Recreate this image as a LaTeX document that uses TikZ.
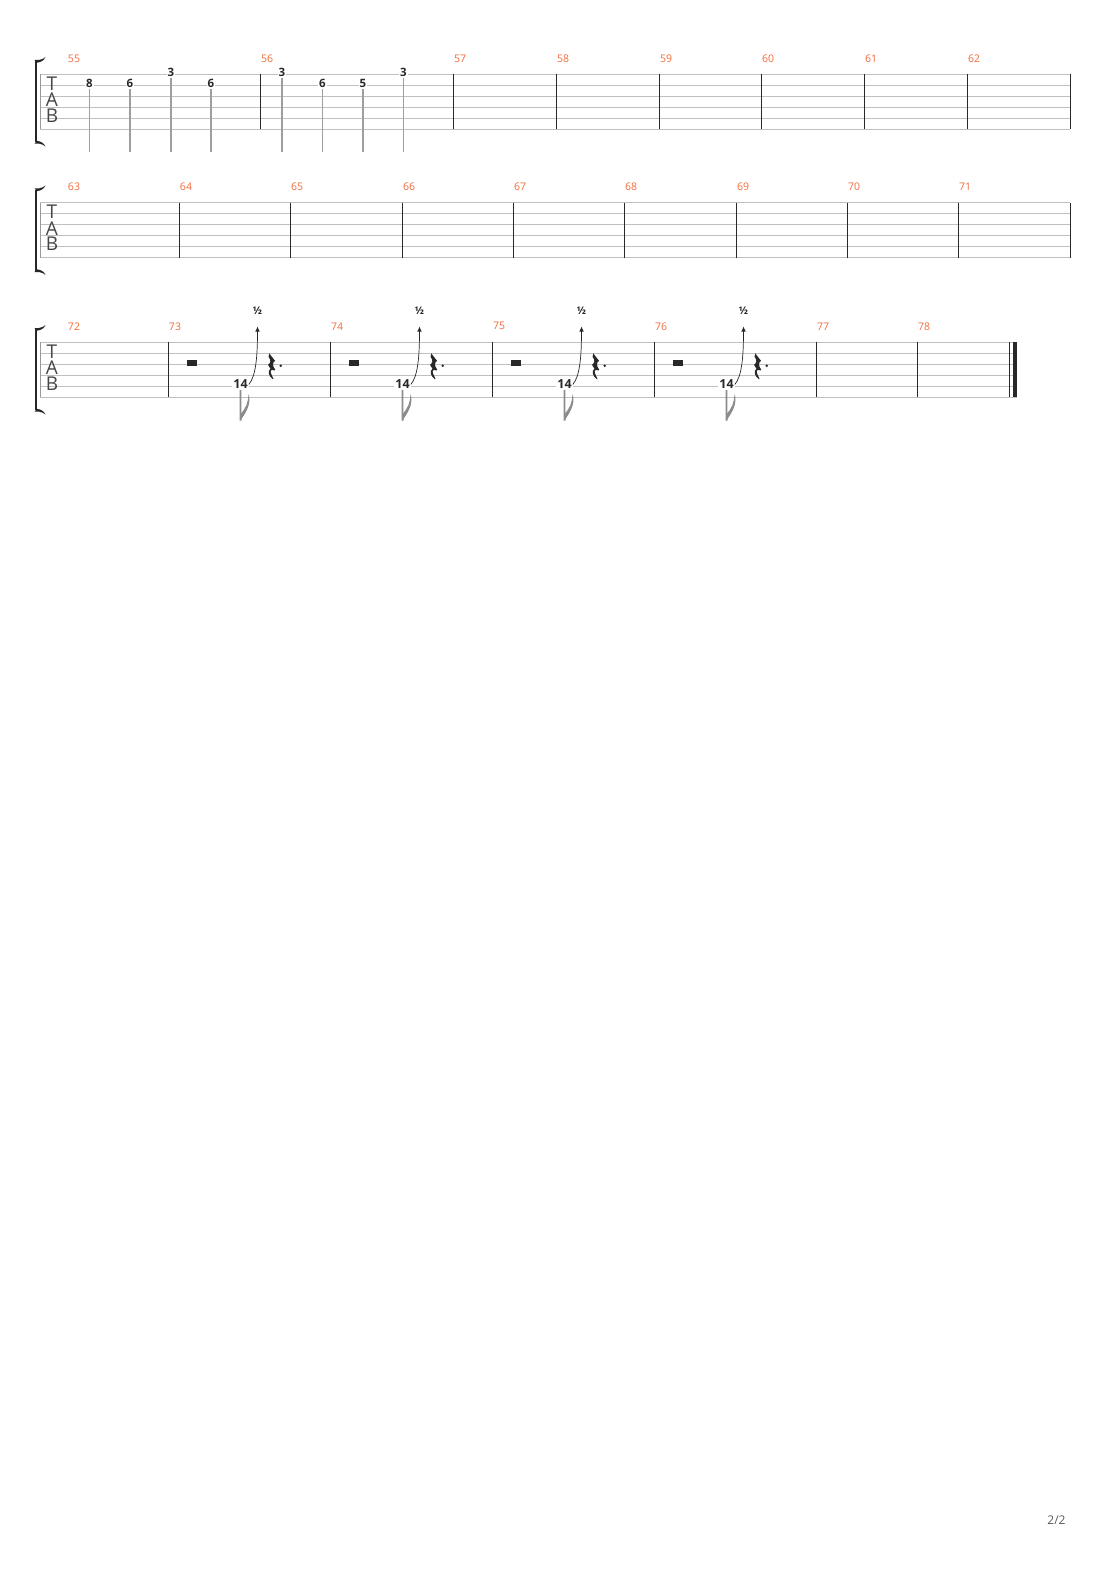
\documentclass[tikz,border=0pt]{standalone}
\usepackage{fontspec}
\setmainfont{Open Sans}
\usepackage{xcolor}
\usetikzlibrary{arrows.meta,positioning,calc}

\definecolor{barnum}{RGB}{242,107,58}
\definecolor{stringgray}{RGB}{192,192,192}
\definecolor{inkdark}{RGB}{40,40,40}
\tikzset{
  staffline/.style={draw=stringgray, line width=0.9pt},
  barline/.style={draw=inkdark, line width=1pt},
  barnumber/.style={text=barnum, font=\fontsize{10.5}{12}\selectfont, inner sep=0pt},
  fret/.style={text=inkdark, font=\bfseries\fontsize{11.5}{13}\selectfont, fill=white, inner sep=1pt},
  stemline/.style={draw=black!38, line width=1.4pt},
  clefletter/.style={text=black!72, font=\fontsize{19}{19}\selectfont, inner sep=0pt},
}

\begin{document}
\begin{tikzpicture}[x=1pt, y=-1pt]
    \useasboundingbox[fill=white] (0,0) rectangle (1110,1570);

    % Staves, clef and bracket
    \foreach \top/\right [count=\s] in {74.3/1070, 202.7/1070, 342.3/1017} {
        \foreach \k in {0,...,5}
            \draw[staffline] (40,\top+11*\k) -- (\right,\top+11*\k);
        \draw[draw=black!40, line width=0.8pt] (40.5,\top) -- (40.5,\top+55);
        \node[clefletter] (tabT\s) at (52,\top+9.5) {T};
        \node[clefletter] (tabA\s) at (52,\top+25.5) {A};
        \node[clefletter] (tabB\s) at (52,\top+41.5) {B};
        \draw[draw=black!85, line width=2.6pt] (35.8,\top-13) -- (35.8,\top+68);
        \fill[black!85] (34.5,\top-14.3) -- (39,\top-14.3) .. controls (42,\top-14.8) and (44,\top-15.8) .. (45.5,\top-17.3) .. controls (44,\top-13.8) and (41,\top-12) .. (37,\top-11.6) -- cycle;
        \fill[black!85] (34.5,\top+69.3) -- (39,\top+69.3) .. controls (42,\top+69.8) and (44,\top+70.8) .. (45.5,\top+72.3) .. controls (44,\top+68.8) and (41,\top+67) .. (37,\top+66.6) -- cycle;
    }

    % Barlines and bar numbers, staff 1
    \node[barnumber] (m55) at (74,58.5) {55};
    \foreach \x [count=\i from 56] in {260,453,556,659,761,864,967} {
        \draw[barline] (\x,74.3) -- (\x,129.3);
        \node[barnumber] (m\i) at (\x+7,58.5) {\i};
    }
    \draw[barline] (1070,74.3) -- (1070,129.3);

    % Barlines and bar numbers, staff 2
    \node[barnumber] (m63) at (74,186.5) {63};
    \foreach \x [count=\i from 64] in {179,290,402,513,624,736,847,958} {
        \draw[barline] (\x,202.7) -- (\x,257.7);
        \node[barnumber] (m\i) at (\x+7,186.5) {\i};
    }
    \draw[barline] (1070,202.7) -- (1070,257.7);

    % Barlines and bar numbers, staff 3
    \node[barnumber] (m72) at (74,326.3) {72};
    \foreach \x [count=\i from 73] in {168,330,492,654,816,917} {
        \draw[barline] (\x,342.3) -- (\x,397.3);
        \node[barnumber] (m\i) at (\x+7,326.3) {\i};
    }
    \draw[barline] (1009.3,342.3) -- (1009.3,397.3);
    \draw[draw=inkdark, line width=4pt] (1015,342.3) -- (1015,397.3);

    % Frets and stems, bars 55-56
    \foreach \x/\f/\str [count=\n] in {89.5/8/2, 130/6/2, 171/3/1, 211/6/2, 282/3/1, 322.5/6/2, 363/5/2, 403.5/3/1} {
        \node[fret] (f\n) at (\x,63.3+11*\str-1.5) {\f};
        \coordinate (fe\n) at (\x,152.3);
        \draw[stemline] (f\n.south) -- (fe\n);
    }

    % Rest, bend and rest again, bars 73-76
    \foreach \o [count=\k from 73] in {168,330,492,654} {
        \fill[inkdark] (\o+19,360.3) rectangle (\o+29,365.6);
        \node[fret, font=\bfseries\fontsize{12.5}{14}\selectfont] (n\k) at (\o+72.5,384.5) {14};
        \coordinate (bend\k) at (\o+89.5,326.5);
        \draw[-{Latex[length=5pt,width=4.5pt]}, draw=inkdark, line width=0.7pt] (n\k.east) .. controls (\o+88,376) and (\o+89.5,356) .. (bend\k);
        \node[text=inkdark, font=\bfseries\fontsize{10.5}{12}\selectfont, inner sep=0pt] (half\k) at (\o+89.5,311) {½};
        \coordinate (ne\k) at (\o+72.6,420.5);
        \draw[draw=black!45, line width=1.8pt] (n\k.south) -- (ne\k);
        \fill[black!45] (\o+80.3,394) .. controls (\o+83,399) and (\o+81.5,409) .. (\o+72,420.8) -- (\o+72.5,414) .. controls (\o+78,408) and (\o+80.5,402) .. (\o+80.3,394) -- cycle;
        \begin{scope}[shift={(\o+100,353.3)}]
            \fill[inkdark] (1.2,0) -- (7,7.5) .. controls (4.5,9.5) and (4,11.5) .. (7.2,16.5) -- (6.4,17.2) .. controls (3.8,15.8) and (1.8,17) .. (3,20) .. controls (3.6,21.8) and (4.6,23.5) .. (5.6,25.8) -- (4.6,25.8) .. controls (0.8,22.5) and (-1,18) .. (2.5,15.4) .. controls (1.5,14) and (0.6,12.5) .. (0,11.5) .. controls (2.8,9.5) and (3.2,7) .. (0.6,3.6) -- cycle;
        \end{scope}
        \fill[inkdark] (\o+112.7,365.7) circle (1.4);
    }

    % Page number
    \node[text=black!65, font=\fontsize{12}{14}\selectfont] (pagenum) at (1056.5,1520.5) {2/2};
\end{tikzpicture}
\end{document}
